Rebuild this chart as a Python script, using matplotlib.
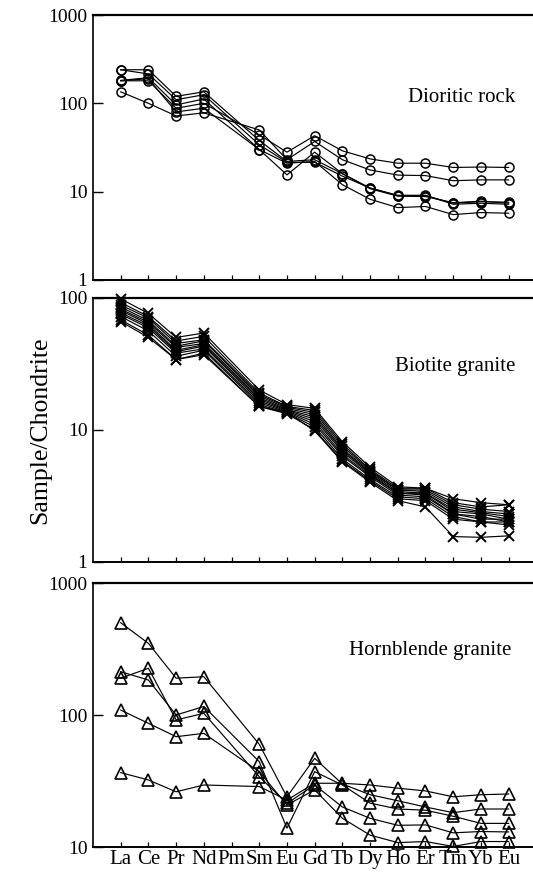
import numpy as np
import matplotlib
matplotlib.use("Agg")
import matplotlib.pyplot as plt
from matplotlib.ticker import FixedLocator, NullLocator

plt.rcParams['font.family'] = ['Liberation Serif', 'DejaVu Serif']

# Chondrite-normalised REE patterns (Pm not analysed)
tick_labels = ["La", "Ce", "Pr", "Nd", "Pm", "Sm", "Eu", "Gd", "Tb", "Dy",
               "Ho", "Er", "Tm", "Yb", "Eu"]
elements = ["La", "Ce", "Pr", "Nd", "Sm", "Eu", "Gd", "Tb", "Dy",
            "Ho", "Er", "Tm", "Yb", "Lu"]
element_pos = [0, 1, 2, 3, 5, 6, 7, 8, 9, 10, 11, 12, 13, 14]

dioritic = [
    [240, 240, 120, 135, 38, 22.0, 23.0, 16.0, 11.0, 9.0, 9.0, 7.4, 7.7, 7.6],
    [240, 215, 110, 125, 34, 21.5, 21.5, 15.0, 11.0, 9.1, 9.1, 7.2, 7.4, 7.2],
    [182, 195, 96, 112, 30, 15.5, 28.0, 16.0, 10.8, 8.9, 8.8, 7.5, 7.8, 7.4],
    [180, 180, 88, 100, 44, 28.0, 43.0, 29.0, 23.5, 21.0, 21.0, 18.8, 19.0, 18.8],
    [135, 100, 72, 78, 50, 23.0, 37.0, 23.0, 17.6, 15.4, 15.2, 13.3, 13.6, 13.6],
    [180, 190, 80, 88, 30, 21.0, 22.0, 12.0, 8.2, 6.6, 6.8, 5.5, 5.8, 5.7],
]

biotite = [
    [98, 76, 50, 54, 20.0, 15.5, 14.5, 8.1, 5.2, 3.7, 3.6, 3.0, 2.8, 2.7],
    [92, 72, 47, 51, 19.0, 15.0, 14.0, 7.8, 5.0, 3.6, 3.6, 2.8, 2.6, 2.7],
    [88, 70, 45, 48, 18.5, 14.8, 13.5, 7.5, 4.9, 3.5, 3.5, 2.7, 2.5, 2.4],
    [85, 67, 43, 47, 18.0, 14.5, 13.0, 7.2, 4.8, 3.5, 3.4, 2.6, 2.4, 2.3],
    [82, 65, 42, 45, 17.5, 14.2, 12.5, 7.0, 4.7, 3.4, 3.3, 2.5, 2.35, 2.2],
    [80, 63, 40, 44, 17.0, 14.0, 12.0, 6.8, 4.6, 3.3, 3.3, 2.4, 2.3, 2.1],
    [77, 61, 39, 43, 16.5, 13.8, 11.5, 6.5, 4.5, 3.3, 3.2, 2.3, 2.2, 2.0],
    [75, 59, 38, 41, 16.0, 13.6, 11.0, 6.3, 4.4, 3.2, 3.1, 2.3, 2.1, 2.1],
    [72, 56, 36, 40, 15.5, 13.4, 10.5, 6.0, 4.2, 3.1, 3.0, 2.2, 2.0, 1.9],
    [68, 52, 34, 38, 15.0, 13.2, 10.0, 5.8, 4.1, 3.0, 2.9, 2.1, 2.0, 2.0],
    [66, 50, 34, 37, 15.0, 13.5, 9.8, 5.7, 4.0, 2.9, 2.6, 1.55, 1.53, 1.57],
]

hornblende = [
    [500, 349, 190, 195, 60, 24.0, 47.0, 30.0, 24.9, 22.4, 20.1, 18.2, 19.4, 19.4],
    [213, 184, 100, 116, 44.3, 13.9, 37.2, 29.5, 21.5, 19.4, 19.0, 17.1, 15.1, 15.1],
    [190, 226, 91.7, 103, 34.1, 21.4, 29.5, 20.1, 16.5, 14.6, 14.7, 12.8, 13.1, 13.0],
    [109, 86.5, 68.5, 72.6, 37.2, 20.8, 27.1, 16.5, 12.3, 10.8, 11.0, 10.1, 11.0, 11.0],
    [36.6, 32.2, 26.2, 29.5, 28.7, 22.7, 30.4, 30.4, 29.5, 27.9, 26.6, 24.0, 24.9, 25.2],
]

panels = [
    dict(data=dioritic, name="Dioritic rock", marker="o", ms=6.5, mew=1.1,
         ylim=(1, 1000), yticks=[1, 10, 100, 1000],
         rect=[93 / 533, 1 - 280 / 875, 440 / 533, 265 / 875], title_xy=(0.96, 0.69)),
    dict(data=biotite, name="Biotite granite", marker="x", ms=7.5, mew=1.4,
         ylim=(1, 100), yticks=[1, 10, 100],
         rect=[93 / 533, 1 - 561.7 / 875, 440 / 533, 264 / 875], title_xy=(0.96, 0.74)),
    dict(data=hornblende, name="Hornblende granite", marker="^", ms=8.5, mew=1.2,
         ylim=(10, 1000), yticks=[10, 100, 1000],
         rect=[93 / 533, 1 - 847 / 875, 440 / 533, 264 / 875], title_xy=(0.95, 0.745)),
]

fig = plt.figure(figsize=(5.33, 8.75), dpi=100)

for i, p in enumerate(panels):
    ax = fig.add_axes(p["rect"])
    for series in p["data"]:
        ax.plot(element_pos, series, color="black", lw=0.85,
                marker=p["marker"], ms=p["ms"], mfc="none", mec="black",
                mew=p["mew"], clip_on=False, zorder=3)
    ax.set_yscale("log")
    ax.set_ylim(*p["ylim"])
    ax.set_xlim(-1, 14.88)
    ax.yaxis.set_major_locator(FixedLocator(p["yticks"]))
    ax.yaxis.set_minor_locator(NullLocator())
    ax.set_yticklabels([str(v) for v in p["yticks"]])
    ax.set_xticks(range(len(tick_labels)))
    if i == 2:
        ax.set_xticklabels(tick_labels)
    else:
        ax.set_xticklabels([])
    ax.tick_params(axis="y", direction="in", length=7, width=1,
                   labelsize=14, pad=4)
    ax.tick_params(axis="x", direction="in", length=3.8, width=0.9,
                   labelsize=15, pad=2)
    ax.spines["right"].set_visible(False)
    ax.spines["top"].set_linewidth(1.6)
    ax.spines["left"].set_linewidth(1.2)
    ax.spines["bottom"].set_linewidth(1.4)
    ax.text(p["title_xy"][0], p["title_xy"][1], p["name"], transform=ax.transAxes,
            ha="right", va="center", fontsize=15)

fig.text(40 / 533, 1 - 430 / 875, "Sample/Chondrite", rotation=90,
         ha="center", va="center", fontsize=18.5)

fig.savefig("out.png", dpi=100)
